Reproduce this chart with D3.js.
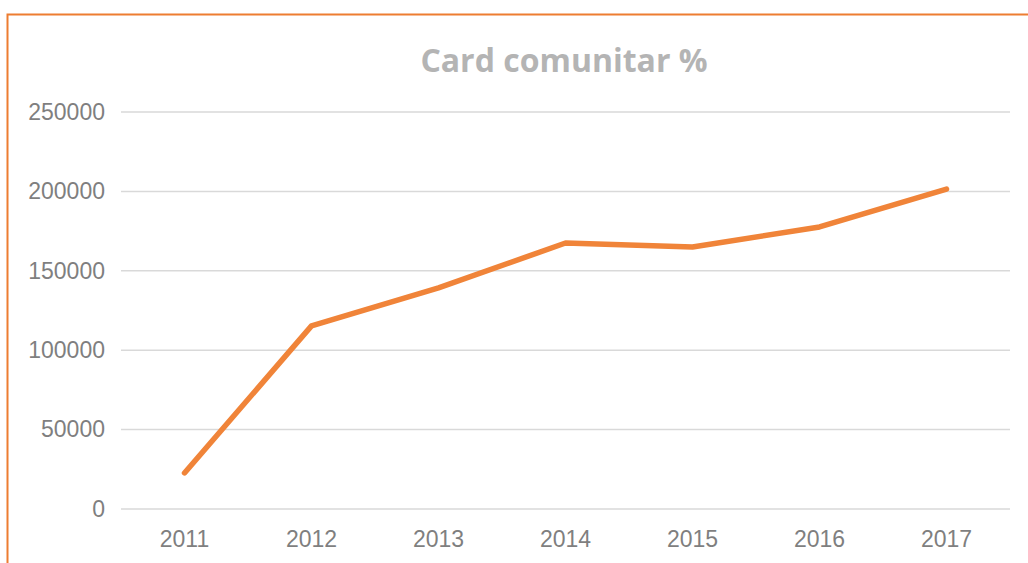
<!DOCTYPE html>
<html lang="en">
<head>
<meta charset="UTF-8">
<title>Card comunitar %</title>
<script src="https://d3js.org/d3.v7.min.js"></script>
<style>
  body { margin: 0; background: #fff; }
  svg { display: block; }
</style>
</head>
<body>
<div id="wrapper"></div>
<script>
// data
const years = ["2011", "2012", "2013", "2014", "2015", "2016", "2017"];
const values = [22700, 115300, 139200, 167500, 165000, 177600, 201500];
const yTicks = [0, 50000, 100000, 150000, 200000, 250000];

const W = 1028, H = 563;
const margin = {top: 112, right: 18, bottom: 54, left: 121};

const svg = d3.select("#wrapper").append("svg")
  .attr("width", W).attr("height", H);

// chart frame (only top and left edges visible)
svg.append("path")
  .attr("d", `M7.5,${H} V14.5 H${W}`)
  .attr("fill", "none")
  .attr("stroke", "#ED7D31")
  .attr("stroke-width", 2);

const x = d3.scaleBand()
  .domain(years)
  .range([margin.left, W - margin.right]);

const y = d3.scaleLinear()
  .domain([0, 250000])
  .range([H - margin.bottom, margin.top]);

// grid lines
svg.append("g")
  .selectAll("line")
  .data(yTicks)
  .join("line")
    .attr("x1", margin.left)
    .attr("x2", W - margin.right)
    .attr("y1", d => y(d))
    .attr("y2", d => y(d))
    .attr("stroke", "#d9d9d9")
    .attr("stroke-width", 1.5);

// y axis labels
const yAxis = svg.append("g")
  .attr("transform", `translate(${margin.left},0)`)
  .call(d3.axisLeft(y).tickValues(yTicks).tickSize(0).tickPadding(16).tickFormat(d3.format("d")));
yAxis.select(".domain").remove();
yAxis.selectAll("text")
  .attr("fill", "#7f7f7f")
  .style("font-family", "'Liberation Sans', Arial, sans-serif")
  .style("font-size", "23px");

// x axis labels
const xAxis = svg.append("g")
  .attr("transform", `translate(0,${H - margin.bottom})`)
  .call(d3.axisBottom(x).tickSize(0).tickPadding(22));
xAxis.select(".domain").remove();
xAxis.selectAll("text")
  .attr("fill", "#7f7f7f")
  .style("font-family", "'Liberation Sans', Arial, sans-serif")
  .style("font-size", "23px");

// the line
const line = d3.line()
  .x((d, i) => x(years[i]) + x.bandwidth() / 2)
  .y(d => y(d));

svg.append("path")
  .datum(values)
  .attr("d", line)
  .attr("fill", "none")
  .attr("stroke", "#F08439")
  .attr("stroke-width", 5.5)
  .attr("stroke-linecap", "round")
  .attr("stroke-linejoin", "round");

// title
svg.append("text")
  .attr("x", 564)
  .attr("y", 72)
  .attr("text-anchor", "middle")
  .attr("fill", "#b4b4b4")
  .style("font-family", "'Open Sans', sans-serif")
  .style("font-weight", "bold")
  .style("font-size", "32px")
  .text("Card comunitar %");
</script>
</body>
</html>
